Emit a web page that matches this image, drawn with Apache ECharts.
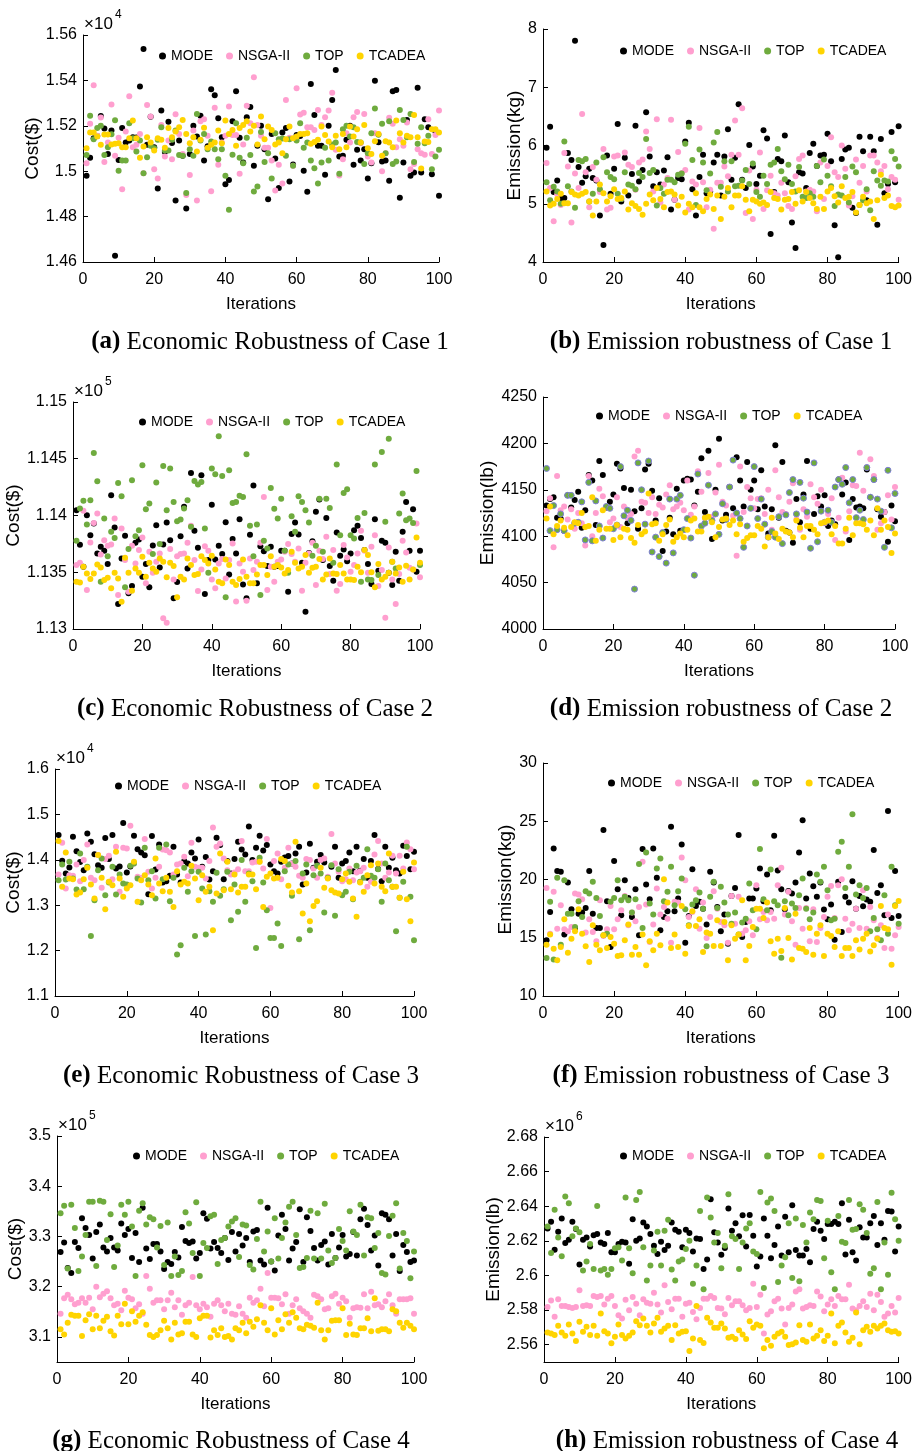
<!DOCTYPE html>
<html>
<head>
<meta charset="utf-8">
<script src="https://cdn.jsdelivr.net/npm/echarts@6/dist/echarts.min.js"></script>
<style>
html,body{margin:0;padding:0;background:#fff;}
#chart{width:915px;height:1451px;}
</style>
</head>
<body>
<div id="chart"></div>
<script>
// Series names shared by all panels
const algorithms = ['MODE', 'NSGA-II', 'TOP', 'TCADEA'];

// Case 1 – cost (x10^4 $)
const c1CostMODE = [1.498,1.5059,1.5145,1.5155,1.5243,1.5188,1.5076,1.5179,1.4628,1.5049,1.519,1.5126,1.5135,1.515,1.5148,1.5373,1.5538,1.5116,1.524,1.5106,1.4924,1.5267,1.5085,1.5218,1.5124,1.4871,1.5135,1.5068,1.4836,1.5076,1.52,1.5153,1.5244,1.5047,1.511,1.5361,1.5335,1.5233,1.515,1.4942,1.4961,1.522,1.5352,1.5147,1.5038,1.5238,1.5283,1.5024,1.5112,1.52,1.5097,1.4876,1.5164,1.5056,1.4926,1.517,1.519,1.4955,1.503,1.5159,1.5155,1.5002,1.4909,1.5384,1.5248,1.5112,1.5112,1.4984,1.52,1.5314,1.5446,1.5065,1.5068,1.5138,1.52,1.5028,1.5094,1.5047,1.5097,1.4968,1.5035,1.5398,1.5128,1.5043,1.5047,1.4958,1.5352,1.5358,1.4883,1.5038,1.5226,1.498,1.4994,1.5368,1.4994,1.5229,1.5194,1.4987,1.5175,1.4892];
const c1CostNSGA = [1.5035,1.5209,1.5379,1.5156,1.5237,1.5041,1.5126,1.5294,1.5068,1.5147,1.4921,1.5175,1.533,1.5106,1.5116,1.5164,1.4991,1.5292,1.5241,1.5009,1.4968,1.5204,1.5065,1.5135,1.5053,1.5251,1.5164,1.5076,1.4895,1.4983,1.5179,1.4871,1.522,1.5229,1.5156,1.4912,1.5279,1.5028,1.5126,1.5156,1.5285,1.5159,1.5159,1.4989,1.5118,1.5288,1.5211,1.5414,1.5204,1.5156,1.5103,1.5103,1.5047,1.4915,1.5028,1.4946,1.5314,1.5147,1.5024,1.5365,1.525,1.5258,1.5194,1.5194,1.5182,1.527,1.5204,1.5238,1.5267,1.5346,1.5094,1.4981,1.5053,1.5167,1.5126,1.5238,1.5261,1.5123,1.5252,1.5065,1.5038,1.5167,1.5163,1.5,1.5079,1.5235,1.5209,1.5106,1.5141,1.5112,1.5214,1.5009,1.5032,1.5097,1.5079,1.5072,1.5229,1.5076,1.5159,1.5267];
const c1CostTOP = [1.5071,1.5244,1.5141,1.519,1.52,1.5071,1.5106,1.5163,1.5225,1.5002,1.5047,1.5047,1.5211,1.5145,1.5087,1.5135,1.4991,1.5062,1.5112,1.5101,1.5138,1.5194,1.5091,1.5091,1.5138,1.5179,1.5071,1.5068,1.4904,1.5097,1.5068,1.5252,1.5135,1.5164,1.5097,1.5131,1.5097,1.5053,1.5097,1.498,1.483,1.5072,1.5211,1.5059,1.5035,1.5147,1.5071,1.4911,1.4933,1.5173,1.5041,1.5079,1.4968,1.5167,1.5141,1.5144,1.5068,1.5141,1.5024,1.5135,1.5211,1.5103,1.5126,1.5047,1.5013,1.4946,1.5038,1.5103,1.5047,1.5118,1.5126,1.4989,1.5185,1.52,1.5153,1.5194,1.5129,1.5126,1.5032,1.5079,1.5167,1.5276,1.5161,1.5209,1.5079,1.522,1.5032,1.5043,1.527,1.5226,1.515,1.5252,1.5041,1.5121,1.5194,1.5123,1.5156,1.5009,1.5065,1.5094];
const c1CostTCADEA = [1.5101,1.517,1.517,1.5153,1.5116,1.5162,1.5162,1.5118,1.5121,1.5123,1.5106,1.5106,1.5145,1.5223,1.5145,1.5059,1.5109,1.515,1.5126,1.5091,1.5145,1.5138,1.5103,1.519,1.515,1.5175,1.5194,1.5226,1.5164,1.5123,1.515,1.5087,1.5138,1.5191,1.5103,1.5116,1.5126,1.5179,1.5123,1.5223,1.5164,1.5182,1.5112,1.519,1.5204,1.522,1.5175,1.52,1.5118,1.5241,1.5141,1.5197,1.5182,1.5118,1.5126,1.5079,1.5141,1.5197,1.5145,1.5153,1.5164,1.5164,1.5167,1.5121,1.5129,1.5138,1.5197,1.516,1.5131,1.5106,1.5156,1.5097,1.5164,1.5106,1.5197,1.5153,1.5185,1.5126,1.5204,1.5101,1.5076,1.5132,1.5164,1.5068,1.5132,1.5126,1.5106,1.5223,1.5167,1.5126,1.5156,1.515,1.5248,1.515,1.5012,1.5131,1.5129,1.5185,1.5185,1.517];

// Case 1 – emission (kg)
const c1EmisMODE = [5.96,6.32,5.2,5.4,5.1,5.1,5.87,5.75,7.8,5.63,5.36,5.47,5.6,5.44,5.4,4.8,4.29,5.83,5.17,5.6,6.37,5.04,5.79,5.14,5.51,6.34,5.38,5.58,6.57,5.81,5.3,5.54,5.33,5.57,5.8,4.9,5.07,5.44,5.42,6.07,6.39,5.25,4.8,5.46,5.84,5.18,5.21,5.71,5.84,5.14,5.81,6.28,5.41,5.79,6.71,5.41,5.27,6.01,5.64,5.34,5.48,6.26,6.12,4.48,5.2,5.77,5.73,6.17,5.37,4.68,4.24,5.54,5.52,5.27,5.87,6.03,5.65,5.83,5.84,6.2,5.73,4.63,4.08,5.77,5.93,5.96,4.93,4.84,6.15,5.9,5.06,6.15,5.9,4.64,6.11,5.18,5.34,6.23,5.37,6.33];
const c1EmisNSGA = [5.7,5.27,4.7,5.16,4.98,5.87,5.64,4.68,5.52,5.27,6.54,5.54,4.94,5.63,5.41,5.2,5.94,4.9,4.93,5.81,5.83,5.08,5.88,5.67,5.63,5.24,5.71,5.76,6.24,5.94,5.21,6.45,5.02,5.33,5.44,6.44,5.07,5.89,5.53,5.58,4.9,5.38,5.33,6.3,5.37,4.94,5.24,4.57,5.36,5.36,5.64,5.47,5.84,6.43,5.84,6.64,4.84,5.57,4.74,5.24,5.88,4.91,5.23,5.48,5.18,5.14,5.36,5.18,4.96,4.91,5.47,5.77,5.83,5.21,5.24,5.21,4.87,5.71,5.08,5.65,6.14,5.54,5.46,6.0,5.6,4.97,5.13,5.76,5.36,5.65,5.21,5.83,5.83,5.71,5.56,5.65,5.25,5.46,5.41,5.07];
const c1EmisTOP = [5.37,5.06,5.29,5.21,5.0,6.07,5.3,5.21,4.93,5.75,5.73,5.77,5.04,5.17,5.71,5.25,5.8,5.54,5.46,5.42,5.17,5.08,5.54,5.33,5.31,5.25,5.53,5.46,6.11,5.53,5.58,4.97,5.27,5.17,5.41,5.41,5.37,5.5,5.52,6.03,6.32,5.75,4.98,5.93,5.71,5.23,5.52,6.05,6.23,5.29,5.73,5.21,5.73,5.3,5.31,5.4,5.58,5.34,5.69,5.2,5.12,5.48,5.34,5.67,5.71,5.94,5.56,5.42,5.67,5.34,5.21,5.63,5.12,5.1,5.18,5.12,5.65,5.37,5.76,5.48,5.3,4.96,5.16,5.14,5.46,5.02,5.64,5.54,4.98,5.06,5.25,4.89,5.56,5.4,5.31,5.4,5.38,5.9,5.77,5.64];
const c1EmisTCADEA = [5.21,4.97,5.0,5.08,5.17,5.01,5.01,5.2,5.16,5.14,5.17,5.2,5.04,4.8,5.04,5.33,5.18,5.04,5.13,5.25,5.08,5.1,5.21,4.9,5.01,4.96,4.91,4.81,5.0,5.16,5.06,5.27,5.08,4.94,5.2,5.21,5.16,4.97,5.12,4.85,5.0,4.94,5.18,4.94,4.87,5.08,5.16,4.91,5.14,4.74,5.12,5.27,4.94,5.14,5.14,5.3,5.07,4.87,5.07,5.04,5.0,5.02,4.98,5.2,5.1,5.08,4.9,5.07,5.08,5.2,5.0,5.23,5.04,5.2,5.1,5.01,4.91,5.12,4.91,5.21,5.27,5.13,5.02,5.3,5.1,5.12,5.2,4.85,4.98,5.12,5.01,5.04,4.74,5.06,5.5,5.1,5.14,4.96,4.94,4.97];

// Case 2 – cost (x10^5 $)
const c2CostMODE = [1.14047,1.13742,1.13548,1.14003,1.13827,1.1393,1.13666,1.13724,1.13689,1.13572,1.14179,1.13894,1.1322,1.13622,1.13821,1.13314,1.13378,1.1376,1.13789,1.13461,1.13572,1.13367,1.13736,1.13915,1.13542,1.13745,1.13938,1.13783,1.1327,1.13413,1.13818,1.14076,1.13534,1.14375,1.13865,1.13716,1.14355,1.13308,1.13607,1.14094,1.13613,1.13733,1.1366,1.13941,1.13481,1.13792,1.13666,1.13968,1.13393,1.1327,1.1383,1.14264,1.13402,1.1373,1.13686,1.13554,1.13724,1.13548,1.13554,1.13689,1.13689,1.13328,1.13836,1.13938,1.13833,1.13584,1.13153,1.1367,1.13774,1.14032,1.14141,1.13607,1.13979,1.13554,1.13425,1.1385,1.13645,1.13701,1.13598,1.13666,1.13871,1.13909,1.13801,1.13695,1.13572,1.13396,1.13968,1.13513,1.13777,1.1376,1.13496,1.13387,1.1368,1.13425,1.13856,1.1412,1.13689,1.14056,1.13504,1.13689];
const c2CostNSGA = [1.13563,1.13584,1.14041,1.13343,1.13762,1.13935,1.14018,1.13657,1.13783,1.13733,1.13745,1.13974,1.13299,1.13886,1.13607,1.13328,1.13733,1.13578,1.13695,1.13806,1.13402,1.1368,1.13496,1.13593,1.13666,1.13094,1.13056,1.13704,1.13437,1.13642,1.1366,1.13666,1.1376,1.13909,1.13607,1.13334,1.13525,1.1373,1.13689,1.13437,1.13358,1.13578,1.13616,1.13446,1.13607,1.13754,1.13243,1.13578,1.13504,1.13249,1.13622,1.13519,1.13593,1.1376,1.14164,1.13343,1.13548,1.13416,1.13593,1.13613,1.1368,1.13748,1.1366,1.13593,1.1371,1.13337,1.13584,1.13666,1.1376,1.13387,1.13689,1.13616,1.13812,1.13484,1.13695,1.13337,1.13396,1.13739,1.13631,1.13504,1.13563,1.13666,1.13865,1.13689,1.13496,1.13724,1.13827,1.13378,1.13519,1.131,1.13718,1.13437,1.1322,1.13484,1.13777,1.13674,1.1354,1.13525,1.1393,1.13455];
const c2CostTOP = [1.13777,1.14062,1.14129,1.13921,1.14135,1.14551,1.14302,1.13416,1.13974,1.13642,1.13856,1.13801,1.14287,1.1417,1.13367,1.13704,1.14311,1.13818,1.13871,1.14443,1.14056,1.14106,1.1366,1.1429,1.13748,1.14437,1.14047,1.14413,1.1412,1.1395,1.13965,1.14062,1.14135,1.139,1.14305,1.14273,1.14296,1.13886,1.13496,1.14413,1.14364,1.14698,1.14349,1.13279,1.14399,1.14111,1.1412,1.14173,1.14164,1.1454,1.13909,1.13642,1.13921,1.13299,1.13777,1.1371,1.14243,1.14059,1.13974,1.14147,1.13689,1.13496,1.13994,1.13856,1.1417,1.1412,1.14047,1.13938,1.13645,1.13733,1.14147,1.1368,1.14147,1.14067,1.13584,1.14449,1.13827,1.14199,1.14232,1.13827,1.13798,1.13979,1.13416,1.14023,1.13437,1.13431,1.14449,1.13475,1.1456,1.13944,1.14677,1.13593,1.13534,1.14018,1.14194,1.13959,1.13974,1.13935,1.14393,1.13563];
const c2CostTCADEA = [1.13416,1.1341,1.13548,1.13489,1.1344,1.13489,1.13569,1.13542,1.13431,1.13452,1.13358,1.13496,1.13446,1.1324,1.13628,1.13496,1.13337,1.13534,1.13496,1.13636,1.13461,1.13584,1.13534,1.13504,1.13622,1.13593,1.13455,1.13584,1.13554,1.13279,1.13461,1.13437,1.13622,1.13563,1.13475,1.13484,1.13642,1.13607,1.13578,1.13645,1.13525,1.13416,1.13402,1.13613,1.13563,1.13416,1.13387,1.1344,1.13613,1.13461,1.13402,1.13402,1.13481,1.13563,1.13563,1.13475,1.13642,1.13548,1.13563,1.13542,1.13489,1.13519,1.1368,1.13584,1.13534,1.13548,1.13651,1.13496,1.1354,1.13548,1.13616,1.13437,1.13481,1.13622,1.13489,1.13484,1.13563,1.13489,1.13437,1.13437,1.13431,1.13548,1.13499,1.13695,1.13651,1.13499,1.13367,1.13572,1.13437,1.13461,1.13496,1.13593,1.13489,1.13542,1.13416,1.13557,1.13437,1.13525,1.13806,1.13584];

// Case 2 – emission (lb)
const c2EmisMODE = [4133,4140,4142,4120,4119,4106,4144,4131,4139,4148,4109,4128,4166,4160,4112,4181,4166,4131,4137,4145,4178,4173,4152,4114,4150,4127,4108,4130,4172,4178,4149,4117,4141,4084,4105,4120,4102,4151,4106,4160,4162,4161,4133,4148,4184,4126,4192,4097,4150,4205,4117,4123,4153,4130,4185,4160,4132,4180,4150,4160,4129,4171,4132,4103,4129,4198,4120,4180,4106,4104,4093,4140,4115,4145,4181,4108,4124,4143,4132,4144,4111,4117,4113,4161,4145,4158,4096,4140,4131,4132,4130,4172,4142,4161,4129,4121,4126,4094,4133,4116];
const c2EmisNSGA = [4127,4141,4088,4165,4128,4132,4118,4129,4108,4125,4114,4090,4165,4100,4125,4151,4143,4132,4115,4119,4142,4110,4132,4120,4124,4186,4192,4137,4136,4125,4142,4124,4134,4131,4145,4155,4129,4132,4136,4128,4160,4123,4132,4170,4148,4120,4168,4121,4147,4177,4137,4133,4153,4122,4079,4175,4126,4153,4141,4130,4140,4141,4124,4150,4107,4171,4142,4126,4124,4137,4157,4118,4107,4129,4121,4156,4142,4135,4150,4114,4124,4141,4096,4120,4163,4105,4127,4155,4154,4190,4149,4174,4183,4165,4107,4114,4126,4144,4118,4153];
const c2EmisTOP = [4173,4106,4133,4107,4124,4106,4144,4144,4114,4115,4137,4096,4158,4095,4138,4111,4098,4132,4130,4108,4112,4175,4122,4128,4117,4043,4179,4150,4113,4181,4083,4099,4078,4104,4071,4140,4082,4140,4144,4107,4119,4098,4058,4167,4111,4114,4155,4117,4124,4102,4135,4118,4153,4182,4125,4119,4088,4111,4130,4175,4119,4140,4113,4099,4105,4099,4121,4092,4123,4147,4161,4124,4158,4141,4126,4087,4179,4094,4127,4115,4128,4115,4153,4161,4156,4174,4136,4161,4120,4128,4118,4174,4142,4161,4140,4127,4088,4171,4109,4146];
const c2EmisTCADEA = [4119,4132,4102,4111,4117,4109,4101,4110,4115,4114,4125,4110,4111,4142,4095,4107,4128,4108,4108,4096,4112,4099,4108,4107,4098,4093,4112,4102,4105,4146,4113,4114,4095,4102,4112,4118,4094,4099,4103,4099,4107,4117,4119,4105,4105,4120,4121,4115,4099,4110,4118,4119,4112,4117,4102,4113,4094,4098,4101,4101,4111,4108,4089,4099,4120,4103,4097,4108,4105,4104,4099,4117,4109,4099,4111,4111,4107,4102,4114,4115,4117,4102,4111,4092,4092,4108,4120,4101,4114,4114,4113,4107,4117,4101,4130,4107,4117,4110,4082,4103];

// Case 3 – cost (x10^4 $)
const c3CostMODE = [1.4544,1.3978,1.3699,1.3831,1.4507,1.4191,1.395,1.3772,1.4581,1.4397,1.4125,1.3882,1.3824,1.4478,1.4015,1.4544,1.3809,1.385,1.4809,1.3721,1.385,1.4529,1.4235,1.4162,1.41,1.3243,1.4522,1.3787,1.4338,1.35,1.3529,1.3647,1.4287,1.3676,1.35,1.3971,1.3919,1.4162,1.4029,1.4449,1.3846,1.4059,1.3566,1.375,1.4485,1.4324,1.3574,1.3971,1.37,1.4015,1.4397,1.4228,1.4118,1.4735,1.3993,1.4265,1.4529,1.4206,1.4324,1.3897,1.375,1.3699,1.3956,1.405,1.4081,1.392,1.414,1.4287,1.3456,1.3721,1.4353,1.3824,1.3956,1.4103,1.3941,1.3603,1.3846,1.4287,1.3603,1.3919,1.3971,1.4162,1.375,1.4287,1.376,1.4015,1.3603,1.3971,1.4544,1.38,1.3529,1.4287,1.3824,1.4044,1.3772,1.3699,1.4309,1.4081,1.3794,1.4176];
const c3CostNSGA = [1.3676,1.4375,1.3368,1.3662,1.3647,1.3897,1.3529,1.3993,1.4338,1.3603,1.3551,1.4103,1.3382,1.4015,1.4088,1.3574,1.4287,1.3294,1.4265,1.425,1.475,1.3919,1.3625,1.3603,1.4456,1.3735,1.3368,1.3603,1.3846,1.4228,1.4213,1.4162,1.3676,1.3897,1.3919,1.4066,1.364,1.4375,1.3846,1.3824,1.3824,1.3588,1.3971,1.4713,1.4287,1.436,1.4029,1.3772,1.3676,1.3721,1.3794,1.4412,1.375,1.375,1.3941,1.3956,1.3956,1.3809,1.4456,1.2941,1.3971,1.414,1.3574,1.3824,1.4265,1.3919,1.3846,1.3647,1.3603,1.4015,1.3993,1.3809,1.3603,1.3993,1.4029,1.3625,1.4566,1.3919,1.3735,1.3529,1.3574,1.3809,1.3551,1.3721,1.375,1.3824,1.3404,1.3515,1.4118,1.4412,1.3919,1.3603,1.3721,1.4088,1.3699,1.4088,1.3809,1.4382,1.4235,1.3794];
const c3CostTOP = [1.3551,1.3897,1.3566,1.3956,1.3588,1.3346,1.414,1.3353,1.3846,1.2324,1.311,1.3772,1.4029,1.3221,1.35,1.3846,1.3235,1.3676,1.3478,1.3456,1.3868,1.3919,1.3588,1.3059,1.4265,1.3551,1.375,1.3147,1.4265,1.3574,1.4338,1.3088,1.3603,1.1912,1.2118,1.3824,1.3294,1.375,1.2324,1.3735,1.3368,1.2353,1.3309,1.3074,1.3713,1.3206,1.3353,1.3735,1.2669,1.3456,1.2853,1.3993,1.3074,1.3699,1.3529,1.2059,1.4044,1.35,1.289,1.2279,1.2279,1.2596,1.2103,1.375,1.3897,1.3206,1.3971,1.225,1.3699,1.3897,1.2449,1.3662,1.3868,1.3699,1.2838,1.3603,1.3882,1.2765,1.3794,1.3221,1.3294,1.3735,1.3132,1.3868,1.3515,1.3603,1.4235,1.3647,1.3603,1.3794,1.3074,1.3919,1.3551,1.3404,1.2426,1.3162,1.3515,1.4287,1.3184,1.2228];
const c3CostTCADEA = [1.4412,1.3404,1.4162,1.3588,1.3574,1.3235,1.3279,1.3574,1.3824,1.3456,1.3147,1.4103,1.3603,1.2912,1.3515,1.3441,1.4176,1.3588,1.3184,1.3368,1.3441,1.3956,1.3074,1.3551,1.3662,1.3456,1.3221,1.4029,1.3478,1.3309,1.3603,1.3294,1.2963,1.375,1.3456,1.3515,1.3478,1.3868,1.3588,1.311,1.3662,1.3294,1.3404,1.2449,1.3257,1.414,1.3331,1.3956,1.3353,1.3676,1.3279,1.3404,1.3404,1.3676,1.3676,1.3353,1.3956,1.2963,1.3625,1.3699,1.3588,1.3603,1.4015,1.3971,1.3426,1.3279,1.4397,1.3309,1.2816,1.3478,1.2647,1.2985,1.3088,1.3824,1.3382,1.3588,1.3331,1.3279,1.3257,1.3574,1.3699,1.3515,1.3147,1.2743,1.35,1.3294,1.3662,1.3882,1.3478,1.3919,1.3404,1.3309,1.414,1.3404,1.3404,1.3162,1.3735,1.3132,1.2647,1.3941];

// Case 3 – emission (kg)
const c3EmisMODE = [14.78,17.22,22.67,20.72,20.66,15.27,19.74,17.45,15.84,17.07,17.16,17.56,20.72,17.07,15.84,15.84,24.25,18.13,14.2,21.58,19.17,16.93,19.94,18.42,16.79,19.17,15.21,22.61,19.57,18.31,22.67,20.14,15.64,16.79,17.27,24.53,17.27,18.36,23.01,14.58,16.87,20.89,17.73,18.08,17.5,16.13,20.66,19.74,17.65,15.55,16.99,14.49,18.59,19.28,23.82,15.06,16.36,18.36,18.36,19.23,20.95,18.13,20.43,17.36,23.76,20.77,19.17,17.45,19.02,18.79,19.74,22.32,25.08,18.36,20.52,19.43,18.51,19.74,17.42,16.59,17.85,14.83,19.8,15.49,18.51,18.02,19.86,17.5,18.59,17.7,18.28,18.08,22.53,18.85,19.51,16.93,25.88,16.7,20.72,16.87];
const c3EmisNSGA = [19.28,15.35,18.94,15.78,17.79,15.72,15.55,15.93,18.79,18.71,18.31,15.44,16.59,15.49,14.69,18.22,15.15,15.72,17.73,15.72,16.59,17.36,18.59,16.07,17.16,16.41,17.65,21.52,17.85,14.63,16.13,19.23,16.99,17.65,16.64,14.58,18.08,18.02,21.89,19.94,16.79,17.22,19.17,15.78,18.02,14.98,16.79,19.0,17.5,16.36,16.07,14.58,18.59,16.21,18.51,15.35,15.64,16.41,15.21,19.51,16.59,17.22,16.5,17.22,16.64,19.51,21.0,16.99,18.94,16.41,14.4,17.56,15.78,17.56,14.69,17.45,14.63,15.84,16.79,18.51,19.45,16.7,19.51,20.03,16.64,15.64,16.21,17.5,15.84,19.08,15.78,17.65,16.5,14.98,16.07,14.12,16.99,14.06,15.21,15.93];
const c3EmisTOP = [13.26,18.08,13.14,20.14,14.4,19.94,17.07,17.07,15.93,18.13,16.79,19.0,18.79,19.8,18.42,16.87,15.21,15.35,18.08,18.42,19.94,18.22,18.51,18.22,17.16,18.31,21.32,15.84,22.32,17.93,16.99,20.95,21.81,18.13,18.94,21.09,17.79,19.0,20.09,17.45,16.07,17.85,18.22,18.88,17.5,14.26,18.51,19.8,17.56,19.37,18.02,16.99,16.21,17.16,15.27,16.3,16.64,19.66,17.36,15.72,22.61,18.31,17.36,20.86,18.13,17.79,13.29,18.13,16.93,17.93,17.56,18.65,20.09,17.5,16.59,17.16,20.43,19.8,21.09,19.08,16.5,16.64,22.38,23.24,19.28,21.09,25.6,18.71,19.51,18.42,19.28,15.55,16.7,15.72,14.78,18.65,15.35,21.09,17.79,16.21];
const c3EmisTCADEA = [14.4,15.27,14.06,13.06,14.2,16.59,13.72,14.92,15.55,17.45,15.35,14.26,12.91,16.07,14.4,13.92,15.21,14.12,15.06,14.49,13.43,13.49,14.78,16.13,13.54,14.2,13.54,15.27,12.64,14.69,13.92,15.35,14.35,20.03,18.02,14.12,15.27,14.2,17.73,13.63,16.01,17.27,16.01,16.59,13.77,15.44,15.35,14.29,16.5,14.29,16.36,13.06,16.07,14.92,15.27,18.22,13.06,14.29,15.93,17.5,17.5,16.7,18.02,14.69,13.63,14.92,13.86,17.56,14.98,13.14,17.07,14.12,14.06,13.77,15.84,13.54,15.35,16.07,13.43,15.35,15.15,14.2,15.55,13.43,14.12,14.12,13.43,14.78,14.0,14.92,15.35,13.83,14.35,14.92,17.73,15.84,15.72,12.68,17.73,18.16];

// Case 4 – cost (x10^5 $)
const c4CostMODE = [3.269,3.288,3.237,3.227,3.289,3.277,3.336,3.317,3.303,3.256,3.309,3.324,3.278,3.27,3.297,3.278,3.272,3.326,3.303,3.315,3.257,3.307,3.249,3.357,3.276,3.255,3.285,3.285,3.27,3.235,3.249,3.245,3.269,3.258,3.319,3.291,3.287,3.29,3.256,3.267,3.346,3.335,3.276,3.289,3.277,3.267,3.297,3.253,3.309,3.27,3.305,3.282,3.297,3.249,3.31,3.313,3.252,3.244,3.357,3.25,3.232,3.302,3.343,3.315,3.252,3.276,3.289,3.354,3.249,3.338,3.311,3.277,3.252,3.283,3.29,3.244,3.305,3.257,3.278,3.303,3.26,3.265,3.309,3.262,3.334,3.355,3.323,3.272,3.302,3.242,3.346,3.343,3.334,3.262,3.305,3.231,3.283,3.269,3.249,3.252];
const c4CostNSGA = [3.146,3.177,3.184,3.175,3.165,3.168,3.177,3.168,3.178,3.155,3.2,3.179,3.186,3.191,3.177,3.163,3.166,3.153,3.192,3.178,3.175,3.157,3.165,3.146,3.221,3.196,3.168,3.173,3.173,3.155,3.173,3.188,3.159,3.173,3.144,3.163,3.168,3.219,3.163,3.155,3.166,3.159,3.14,3.166,3.173,3.163,3.151,3.166,3.146,3.144,3.161,3.146,3.138,3.178,3.168,3.173,3.196,3.161,3.227,3.178,3.178,3.177,3.165,3.185,3.146,3.163,3.175,3.157,3.151,3.146,3.138,3.184,3.181,3.175,3.155,3.157,3.181,3.186,3.166,3.178,3.171,3.138,3.157,3.159,3.158,3.185,3.157,3.19,3.163,3.165,3.159,3.171,3.185,3.163,3.146,3.175,3.175,3.175,3.177,3.146];
const c4CostTOP = [3.346,3.361,3.236,3.363,3.317,3.231,3.26,3.303,3.369,3.369,3.241,3.371,3.369,3.293,3.344,3.239,3.282,3.363,3.343,3.369,3.32,3.221,3.351,3.366,3.324,3.338,3.334,3.278,3.321,3.243,3.328,3.221,3.26,3.223,3.231,3.348,3.326,3.267,3.368,3.221,3.287,3.277,3.34,3.343,3.245,3.293,3.297,3.32,3.33,3.336,3.259,3.324,3.322,3.243,3.234,3.295,3.369,3.27,3.31,3.25,3.336,3.256,3.297,3.328,3.359,3.369,3.303,3.237,3.239,3.257,3.351,3.256,3.346,3.256,3.365,3.272,3.247,3.257,3.315,3.291,3.272,3.35,3.31,3.303,3.363,3.262,3.338,3.336,3.277,3.307,3.227,3.224,3.301,3.341,3.366,3.236,3.307,3.291,3.217,3.27];
const c4CostTCADEA = [3.115,3.105,3.128,3.144,3.142,3.142,3.102,3.133,3.145,3.115,3.142,3.117,3.132,3.14,3.111,3.103,3.142,3.125,3.166,3.125,3.151,3.13,3.142,3.149,3.124,3.104,3.1,3.104,3.113,3.132,3.117,3.095,3.128,3.105,3.107,3.13,3.13,3.105,3.1,3.137,3.142,3.142,3.099,3.113,3.104,3.117,3.1,3.102,3.095,3.117,3.113,3.128,3.107,3.13,3.12,3.135,3.163,3.128,3.113,3.157,3.105,3.133,3.115,3.145,3.128,3.149,3.138,3.117,3.115,3.124,3.122,3.118,3.168,3.113,3.095,3.113,3.132,3.133,3.133,3.157,3.104,3.126,3.105,3.104,3.117,3.117,3.137,3.111,3.177,3.112,3.115,3.115,3.111,3.155,3.151,3.128,3.118,3.128,3.122,3.115];

// Case 4 – emission (x10^6 lb)
const c4EmisMODE = [2.6272,2.631,2.6149,2.6253,2.6329,2.6188,2.6207,2.631,2.6268,2.6063,2.6207,2.622,2.6167,2.6233,2.6239,2.6191,2.6182,2.6245,2.6134,2.6134,2.6182,2.6195,2.6191,2.6067,2.6325,2.6201,2.6214,2.6306,2.6283,2.6239,2.6172,2.6124,2.6195,2.6147,2.6172,2.6306,2.6264,2.6253,2.6163,2.6264,2.6245,2.6138,2.6214,2.621,2.6038,2.6092,2.644,2.6249,2.6191,2.6119,2.6159,2.6387,2.6258,2.6302,2.6226,2.6348,2.6167,2.635,2.623,2.6052,2.6109,2.6329,2.623,2.61,2.6176,2.6283,2.6115,2.6339,2.6134,2.6406,2.6147,2.6115,2.6115,2.6153,2.6077,2.6268,2.631,2.6258,2.6211,2.6297,2.6297,2.631,2.6297,2.6417,2.6121,2.6322,2.6134,2.6086,2.6278,2.622,2.622,2.6302,2.6344,2.6176,2.6302,2.6207,2.6373,2.6369,2.6138,2.6283];
const c4EmisNSGA = [2.5818,2.5856,2.5761,2.5862,2.5824,2.5824,2.5818,2.5812,2.5818,2.5914,2.5824,2.5828,2.5824,2.5881,2.5876,2.5881,2.5832,2.5866,2.5881,2.5824,2.577,2.5751,2.586,2.5799,2.5876,2.5837,2.577,2.5862,2.5843,2.5837,2.59,2.5832,2.5786,2.5943,2.5847,2.5805,2.5866,2.5866,2.5761,2.5837,2.5843,2.5789,2.5747,2.5812,2.5866,2.5866,2.5881,2.587,2.5812,2.5809,2.5776,2.587,2.5828,2.5851,2.5851,2.5828,2.5799,2.5812,2.5952,2.5818,2.5889,2.5665,2.5774,2.5793,2.5851,2.5866,2.5809,2.5717,2.5812,2.5832,2.5908,2.592,2.5809,2.5818,2.5828,2.5824,2.5908,2.5879,2.5793,2.5832,2.5862,2.5824,2.5881,2.5862,2.5862,2.5946,2.5809,2.5799,2.5824,2.5851,2.5818,2.5895,2.5799,2.5889,2.5847,2.5761,2.578,2.5824,2.5786,2.587];
const c4EmisTOP = [2.6283,2.613,2.6379,2.622,2.6111,2.6456,2.6417,2.6226,2.6272,2.6249,2.6029,2.608,2.6182,2.6038,2.6402,2.6029,2.6038,2.6004,2.6038,2.6157,2.6163,2.6086,2.645,2.6157,2.6013,2.6436,2.6482,2.6163,2.5971,2.6057,2.6144,2.6253,2.6057,2.6258,2.6322,2.6034,2.5971,2.608,2.6092,2.6153,2.6201,2.5952,2.6057,2.6373,2.592,2.645,2.6335,2.6191,2.6245,2.6042,2.6172,2.6469,2.6226,2.6211,2.6038,2.6191,2.6272,2.6302,2.6138,2.6124,2.6482,2.5927,2.6421,2.6444,2.6373,2.5962,2.6057,2.6105,2.6302,2.5985,2.6329,2.5966,2.6291,2.6191,2.6364,2.6325,2.6436,2.643,2.61,2.6316,2.6019,2.592,2.6344,2.6195,2.6188,2.6436,2.6264,2.6268,2.6411,2.6379,2.6245,2.601,2.6042,2.6425,2.592,2.6191,2.6004,2.6478,2.6325,2.6201];
const c4EmisTCADEA = [2.5671,2.5665,2.5656,2.5709,2.5671,2.5652,2.5717,2.5665,2.5621,2.5732,2.5675,2.5703,2.5656,2.5709,2.5652,2.578,2.5678,2.5665,2.5608,2.5646,2.5717,2.5656,2.5636,2.5652,2.5671,2.5736,2.5713,2.5751,2.5709,2.5671,2.5722,2.5755,2.5675,2.5694,2.5709,2.5627,2.5713,2.5665,2.5675,2.5678,2.5564,2.5636,2.5824,2.5627,2.561,2.5755,2.5728,2.5698,2.5698,2.5722,2.5694,2.564,2.5646,2.5633,2.5684,2.5659,2.5633,2.5736,2.5698,2.5717,2.5709,2.5579,2.5627,2.5594,2.5646,2.5665,2.5675,2.5646,2.5598,2.5602,2.5613,2.5713,2.5627,2.5617,2.5717,2.5636,2.5652,2.5684,2.5621,2.5652,2.578,2.5608,2.5709,2.5728,2.5671,2.5617,2.564,2.5786,2.5602,2.5684,2.5703,2.5675,2.5709,2.5694,2.5709,2.5722,2.5684,2.5675,2.5678,2.5665];

// Y-axis tick labels for the two panels whose range starts below the first label
const c4CostTicks = [3.1, 3.2, 3.3, 3.4, 3.5];
const c4EmisTicks = [2.56, 2.58, 2.6, 2.62, 2.64, 2.66, 2.68];

const COLORS = ['#000000', '#FF9FCF', '#6FAB3E', '#FFD400'];
const SANS = 'Liberation Sans, Arial, sans-serif';
const SERIF = 'Liberation Serif, Times New Roman, serif';

// Panel layout: plot box in pixels, y range, axis name, exponent, caption
const panels = [
  { box:[83,35,356,227],  y:{min:1.46,max:1.56,interval:0.02}, name:'Cost($)', gap:35, exp:'4',
    data:[c1CostMODE,c1CostNSGA,c1CostTOP,c1CostTCADEA], legend:[159,49], cap:[270,342,'(a)','Economic Robustness of Case 1'] },
  { box:[543,29,359,233], y:{min:4,max:8,interval:1}, name:'Emission(kg)', gap:15, exp:null,
    data:[c1EmisMODE,c1EmisNSGA,c1EmisTOP,c1EmisTCADEA], legend:[620,44], cap:[721,342,'(b)','Emission robustness of Case 1'] },
  { box:[73,402,347,227], y:{min:1.13,max:1.15,interval:0.005}, name:'Cost($)', gap:46, exp:'5',
    data:[c2CostMODE,c2CostNSGA,c2CostTOP,c2CostTCADEA], legend:[139,415], cap:[255,709,'(c)','Economic Robustness of Case 2'] },
  { box:[543,397,352,232], y:{min:4000,max:4250,interval:50}, name:'Emission(lb)', gap:38, exp:null,
    data:[c2EmisMODE,c2EmisNSGA,c2EmisTOP,c2EmisTCADEA], legend:[596,409], cap:[721,709,'(d)','Emission robustness of Case 2'], topRing:true },
  { box:[55,769,359,227], y:{min:1.1,max:1.6,interval:0.1}, name:'Cost($)', gap:29, exp:'4',
    data:[c3CostMODE,c3CostNSGA,c3CostTOP,c3CostTCADEA], legend:[115,779], cap:[241,1076,'(e)','Economic Robustness of Case 3'] },
  { box:[543,763,359,233], y:{min:10,max:30,interval:5}, name:'Emission(kg)', gap:23, exp:null,
    data:[c3EmisMODE,c3EmisNSGA,c3EmisTOP,c3EmisTCADEA], legend:[608,776], cap:[721,1076,'(f)','Emission robustness of Case 3'] },
  { box:[57,1136,357,226], y:{min:3.05,max:3.5,ticks:c4CostTicks}, name:'Cost($)', gap:28, exp:'5',
    data:[c4CostMODE,c4CostNSGA,c4CostTOP,c4CostTCADEA], legend:[133,1149], cap:[231,1441,'(g)','Economic Robustness of Case 4'] },
  { box:[544,1137,357,225], y:{min:2.55,max:2.68,ticks:c4EmisTicks}, name:'Emission(lb)', gap:38, exp:'6',
    data:[c4EmisMODE,c4EmisNSGA,c4EmisTOP,c4EmisTCADEA], legend:[620,1149], cap:[727,1441,'(h)','Emission robustness of Case 4'] }
];

const iterations = c1CostMODE.map((_, i) => i + 1);
// Plain number text (no thousands separator, no float noise)
const fmt = v => String(+(+v).toFixed(6));

const grid = [], xAxis = [], yAxis = [], series = [], legend = [], graphic = [];

panels.forEach((p, k) => {
  const [left, top, width, height] = p.box;
  grid.push({ left, top, width, height, containLabel:false });

  const axisLine = { show:true, onZero:false, lineStyle:{ color:'#000', width:1 } };
  const axisTick = { show:true, inside:true, length:5, lineStyle:{ color:'#000', width:1 } };

  xAxis.push({
    gridIndex:k, type:'value', min:0, max:100, interval:20,
    axisLine, axisTick, splitLine:{ show:false },
    name:'Iterations', nameLocation:'middle', nameGap:34,
    nameTextStyle:{ color:'#000', fontFamily:SANS, fontSize:17 },
    axisLabel:{ color:'#000', fontSize:16, fontFamily:SANS, margin:10, formatter:fmt }
  });

  const y = {
    gridIndex:k, type:'value', min:p.y.min, max:p.y.max,
    axisLine, axisTick:Object.assign({}, axisTick), splitLine:{ show:false },
    name:p.name, nameLocation:'middle', nameGap:p.gap,
    nameTextStyle:{ color:'#000', fontFamily:SANS, fontSize:19 },
    axisLabel:{ color:'#000', fontSize:16, fontFamily:SANS, margin:6, formatter:fmt }
  };
  if (p.y.ticks) {
    y.axisLabel.customValues = p.y.ticks;
    y.axisTick.customValues = p.y.ticks;
  } else {
    y.interval = p.y.interval;
  }
  yAxis.push(y);

  p.data.forEach((vals, s) => {
    const item = { color:COLORS[s], opacity:1 };
    if (p.topRing && s === 2) { item.borderColor = '#7F7FD8'; item.borderWidth = 1; }
    series.push({
      name:algorithms[s], type:'scatter', xAxisIndex:k, yAxisIndex:k,
      symbol:'circle', symbolSize:6, itemStyle:item,
      emphasis:{ disabled:true },
      data:iterations.map((it, i) => [it, vals[i]])
    });
  });

  legend.push({
    data:algorithms, left:p.legend[0], top:p.legend[1], orient:'horizontal',
    icon:'circle', itemWidth:7, itemHeight:7, itemGap:13, padding:0,
    itemStyle:{ opacity:1 },
    textStyle:{ color:'#000', fontSize:14, fontFamily:SANS },
    selectedMode:false
  });

  if (p.exp) {
    graphic.push({ type:'text', left:left + 1, top:top - 19,
      style:{ text:'×10', fontSize:17, fontFamily:SANS, fill:'#000' } });
    graphic.push({ type:'text', left:left + 32, top:top - 26,
      style:{ text:p.exp, fontSize:12, fontFamily:SANS, fill:'#000' } });
  }

  graphic.push({ type:'text', x:p.cap[0], y:p.cap[1],
    style:{ text:'{b|' + p.cap[2] + '} ' + p.cap[3], align:'center', verticalAlign:'middle',
      fontSize:25, fontFamily:SERIF, fill:'#000',
      rich:{ b:{ fontWeight:'bold', fontSize:25, fontFamily:SERIF, fill:'#000' } } } });
});

const chart = echarts.init(document.getElementById('chart'), null, { renderer:'canvas' });
chart.setOption({
  backgroundColor:'#fff',
  animation:false,
  grid, xAxis, yAxis, series, legend, graphic
});
</script>
</body>
</html>
